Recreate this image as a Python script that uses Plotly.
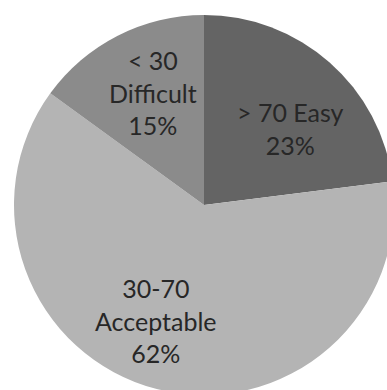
import math
import plotly.graph_objects as go

# Share of items per difficulty band (percent)
band_labels = ["&gt; 70 Easy", "30-70<br>Acceptable", "&lt; 30<br>Difficult"]
band_values = [23, 62, 15]
band_colors = ["#646464", "#b4b4b4", "#8b8b8b"]

# Figure / pie geometry (pixels)
W, H = 400, 400
CX, CY, R = 204, 205, 190

# Label placement along each slice: (fraction of radius, angular nudge in degrees)
label_place = [(0.61, 7.0), (0.66, 8.0), (0.65, 2.5)]

fig = go.Figure(
    go.Pie(
        labels=band_labels,
        values=band_values,
        textinfo="none",
        sort=False,
        direction="clockwise",
        rotation=0,
        marker=dict(colors=band_colors, line=dict(width=0)),
        hoverinfo="skip",
        domain=dict(x=[(CX - R) / W, (CX + R) / W], y=[1 - (CY + R) / H, 1 - (CY - R) / H]),
    )
)

# Slice labels at a point along each slice's bisector, clockwise from 12 o'clock
total = sum(band_values)
start = 0.0
for label, value, (frac, nudge) in zip(band_labels, band_values, label_place):
    sweep = 360.0 * value / total
    ang = math.radians(start + sweep / 2 + nudge)
    px = CX + frac * R * math.sin(ang)
    py = CY - frac * R * math.cos(ang)
    fig.add_annotation(
        x=px / W,
        y=1 - py / H,
        xref="paper",
        yref="paper",
        text=f"{label}<br>{value}%",
        showarrow=False,
        xanchor="center",
        yanchor="middle",
        align="center",
        font=dict(family="Lato, 'Open Sans', sans-serif", size=25, color="#272727"),
    )
    start += sweep

fig.update_layout(
    width=W,
    height=H,
    margin=dict(l=0, r=0, t=0, b=0),
    showlegend=False,
    paper_bgcolor="white",
    plot_bgcolor="white",
)

fig.write_html(
    "out.html",
    post_script="document.documentElement.style.overflow='hidden';document.body.style.overflow='hidden';",
)
